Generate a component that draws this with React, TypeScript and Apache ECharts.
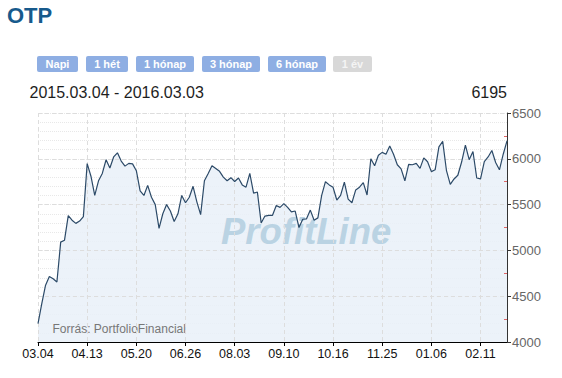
import React, { useEffect, useRef } from 'react';
import * as echarts from 'echarts';

// ---- data ----
const title = 'OTP';
const rangeButtons = ['Napi', '1 hét', '1 hónap', '3 hónap', '6 hónap', '1 év'];
const rangeEnabled = [true, true, true, true, true, false];
const periodText = '2015.03.04 - 2016.03.03';
const lastPriceText = '6195';
const sourceText = 'Forrás: PortfolioFinancial';
const watermarkText = 'ProfitLine';

const xTickLabels = ['03.04', '04.13', '05.20', '06.26', '08.03', '09.10', '10.16', '11.25', '01.06', '02.11'];
const pointsPerTick = 13;

const prices = [
  4200, 4420, 4620, 4715, 4690, 4655, 5090, 5110, 5380, 5330,
  5295, 5320, 5370, 5947, 5810, 5600, 5760, 5840, 5990, 5900,
  6020, 6065, 5975, 5920, 5950, 5945, 5870, 5650, 5600, 5710,
  5580, 5500, 5240, 5400, 5500, 5430, 5315, 5400, 5600, 5520,
  5580, 5700, 5530, 5390, 5760, 5840, 5925, 5895, 5863, 5800,
  5760, 5794, 5752, 5790, 5715, 5690, 5840, 5625, 5638, 5300,
  5375, 5383, 5383, 5490, 5470, 5510, 5470, 5420, 5430, 5250,
  5340, 5345, 5440, 5330, 5355, 5600, 5750, 5715, 5690, 5550,
  5600, 5745, 5560, 5520, 5660, 5690, 5740, 5605, 6000, 5925,
  6038, 6070, 6050, 6140, 6050, 5935, 5890, 5760, 5940, 5935,
  5950, 5895, 6010, 5968, 5860, 5880, 6130, 6190, 5870, 5720,
  5780, 5820, 5965, 6150, 5990, 6080, 5790, 5780, 5970, 6020,
  6090, 5960, 5880, 6050, 6195,
];

const yMin = 4000;
const yMax = 6500;
const yStep = 500;
const yGridMinorStep = 100;

// ---- layout / style ----
const FONT = 'Arial, "Liberation Sans", sans-serif';
const buttonX = [37, 86, 136, 202, 268, 333];
const buttonW = [41, 42, 58, 58, 58, 39];
const GRID = { left: 38, right: 55, top: 113, bottom: 36, containLabel: false };

export default function App() {
  const ref = useRef<HTMLDivElement>(null);

  useEffect(() => {
    if (!ref.current) return;
    const chart = echarts.init(ref.current, undefined, { renderer: 'svg' });

    const buttons: any[] = [];
    rangeButtons.forEach((label, i) => {
      const enabled = rangeEnabled[i];
      buttons.push({
        type: 'rect',
        shape: { x: buttonX[i], y: 56, width: buttonW[i], height: 16, r: 2 },
        style: { fill: enabled ? '#8eaee3' : '#d8d8d8' },
        z: 10,
      });
      buttons.push({
        type: 'text',
        style: {
          text: label,
          x: buttonX[i] + buttonW[i] / 2,
          y: 64,
          textAlign: 'center',
          textVerticalAlign: 'middle',
          font: `bold 11px ${FONT}`,
          fill: enabled ? '#ffffff' : '#f4f4f4',
        },
        z: 11,
      });
    });

    const categories = prices.map((_, i) => String(i));

    const option: any = {
      animation: false,
      grid: [{ ...GRID, z: 1 }, { ...GRID, show: false }],
      xAxis: [
        {
          type: 'category',
          gridIndex: 0,
          data: categories,
          boundaryGap: false,
          z: 4,
          axisLine: { show: true, lineStyle: { color: '#000', width: 1 } },
          axisTick: { show: true, interval: pointsPerTick - 1, length: 4, lineStyle: { color: '#000' } },
          axisLabel: {
            interval: pointsPerTick - 1,
            color: '#111',
            fontSize: 12.5,
            fontFamily: FONT,
            margin: 5,
            formatter: (_v: string, idx: number) => {
              const k = idx / pointsPerTick;
              return Number.isInteger(k) && xTickLabels[k] ? xTickLabels[k] : '';
            },
          },
          splitLine: {
            show: true,
            interval: pointsPerTick - 1,
            lineStyle: { color: '#dddddd', type: [4, 3], width: 1 },
          },
        },
        {
          type: 'category',
          gridIndex: 1,
          data: categories,
          boundaryGap: false,
          show: false,
        },
      ],
      yAxis: [
        {
          type: 'value',
          gridIndex: 0,
          position: 'right',
          min: yMin,
          max: yMax,
          interval: yStep,
          z: 4,
          axisLine: { show: true, lineStyle: { color: '#333', width: 1 } },
          axisTick: { show: true, length: 4, lineStyle: { color: '#333' } },
          minorTick: { show: true, splitNumber: 2, length: -3, lineStyle: { color: '#e06666', width: 1 } },
          axisLabel: {
            color: '#666',
            fontSize: 13,
            fontFamily: FONT,
            margin: 5,
            formatter: (v: number) => String(v),
          },
          splitLine: { show: true, lineStyle: { color: '#dddddd', type: [4, 3], width: 1 } },
        },
        {
          type: 'value',
          gridIndex: 1,
          position: 'right',
          min: yMin,
          max: yMax,
          interval: yGridMinorStep,
          z: 0,
          axisLine: { show: false },
          axisTick: { show: false },
          axisLabel: { show: false },
          splitLine: { show: true, lineStyle: { color: '#e8e8e8', type: [1, 1], width: 1 } },
        },
      ],
      series: [
        {
          type: 'line',
          data: prices,
          xAxisIndex: 0,
          yAxisIndex: 0,
          symbol: 'none',
          showSymbol: false,
          lineStyle: { opacity: 0, width: 0 },
          areaStyle: { color: '#e9f0f8', opacity: 0.85 },
          silent: true,
          z: 1,
        },
        {
          type: 'line',
          data: prices,
          xAxisIndex: 0,
          yAxisIndex: 0,
          symbol: 'none',
          showSymbol: false,
          lineStyle: { color: '#2c4a68', width: 1.2 },
          z: 5,
        },
      ],
      graphic: [
        {
          type: 'text',
          z: 10,
          style: {
            text: title,
            x: 7,
            y: 15,
            textVerticalAlign: 'middle',
            font: `bold 22px ${FONT}`,
            fill: '#175a8c',
          },
        },
        ...buttons,
        {
          type: 'text',
          z: 10,
          style: {
            text: periodText,
            x: 29.5,
            y: 92.5,
            textVerticalAlign: 'middle',
            font: `16px ${FONT}`,
            fill: '#1e1e1e',
          },
        },
        {
          type: 'text',
          z: 10,
          style: {
            text: lastPriceText,
            x: 507,
            y: 92.5,
            textAlign: 'right',
            textVerticalAlign: 'middle',
            font: `16px ${FONT}`,
            fill: '#1e1e1e',
          },
        },
        {
          type: 'text',
          z: 3,
          silent: true,
          style: {
            text: watermarkText,
            x: 221,
            y: 231,
            textVerticalAlign: 'middle',
            font: `italic bold 36.5px ${FONT}`,
            fill: '#bad3e3',
          },
        },
        {
          type: 'text',
          z: 3,
          silent: true,
          style: {
            text: sourceText,
            x: 52.5,
            y: 329,
            textVerticalAlign: 'middle',
            font: `12px ${FONT}`,
            fill: '#777777',
          },
        },
      ],
    };

    chart.setOption(option);
    return () => chart.dispose();
  }, []);

  return (
    <div
      ref={ref}
      style={{ position: 'absolute', left: 0, top: 0, width: 562, height: 378, background: '#fff' }}
    />
  );
}
